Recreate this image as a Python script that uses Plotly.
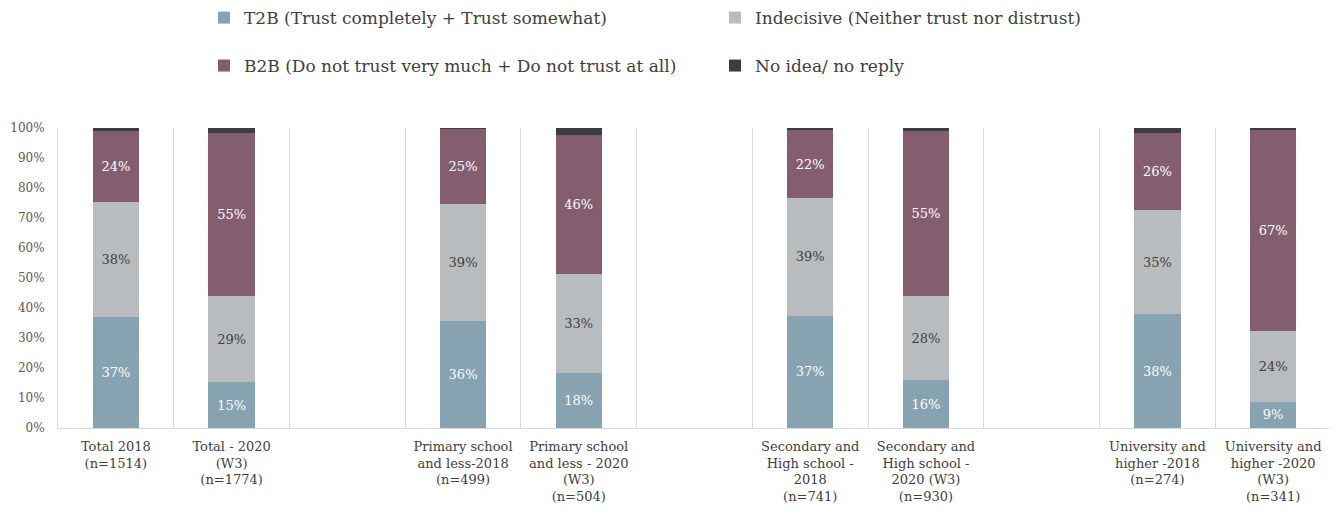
import plotly.graph_objects as go

# ---- data ----
categories = [
    "Total 2018<br>(n=1514)",
    "Total - 2020<br>(W3)<br>(n=1774)",
    "Primary school<br>and less-2018<br>(n=499)",
    "Primary school<br>and less - 2020<br>(W3)<br>(n=504)",
    "Secondary and<br>High school -<br>2018<br>(n=741)",
    "Secondary and<br>High school -<br>2020 (W3)<br>(n=930)",
    "University and<br>higher -2018<br>(n=274)",
    "University and<br>higher -2020<br>(W3)<br>(n=341)",
]
# axis order with empty spacer slots between groups
axis_order = [
    categories[0], categories[1], " ",
    categories[2], categories[3], "  ",
    categories[4], categories[5], "   ",
    categories[6], categories[7],
]
t2b = [37.0, 15.3, 35.7, 18.3, 37.4, 16.0, 37.9, 8.7]
indecisive = [38.2, 28.6, 38.9, 33.1, 39.4, 27.9, 34.7, 23.6]
b2b = [23.9, 54.6, 25.1, 46.4, 22.4, 55.2, 25.7, 67.2]
no_idea = [0.9, 1.5, 0.3, 2.2, 0.8, 0.9, 1.7, 0.5]

series_names = [
    "T2B (Trust completely + Trust somewhat)",
    "Indecisive (Neither trust nor distrust)",
    "B2B (Do not trust very much + Do not trust at all)",
    "No idea/ no reply",
]
colors = ["#87A2B1", "#B9BCBF", "#845E6F", "#3A3D42"]
text_colors = ["white", "#404040", "white", None]
legends = ["legend", "legend", "legend2", "legend2"]

FONT = "DejaVu Serif"
W, H = 1330, 505  # page body adds an 8px offset

fig = go.Figure()
for name, vals, col, tcol, lg in zip(series_names, [t2b, indecisive, b2b, no_idea],
                                     colors, text_colors, legends):
    fig.add_trace(go.Bar(
        name=name,
        x=categories,
        y=vals,
        marker=dict(color=col, line=dict(width=0)),
        width=0.4,
        text=[f"{round(v)}%" for v in vals] if tcol else None,
        textposition="inside" if tcol else "none",
        insidetextanchor="middle",
        textfont=dict(family=FONT, size=13, color=tcol if tcol else "white"),
        legend=lg,
        hoverinfo="x+y+name",
    ))

legend_common = dict(
    orientation="h",
    traceorder="normal",
    xref="container", yref="container",
    x=196 / W, xanchor="left", yanchor="middle",
    font=dict(family=FONT, size=17, color="#404040"),
    entrywidth=466, entrywidthmode="pixels",
    itemclick=False, itemdoubleclick=False,
)

fig.update_layout(
    barmode="stack",
    width=W,
    height=H,
    margin=dict(l=50, r=7, t=120, b=85, autoexpand=False),
    plot_bgcolor="white",
    paper_bgcolor="white",
    font=dict(family=FONT, color="#404040"),
    legend=dict(legend_common, y=1 - 10 / H),
    legend2=dict(legend_common, y=1 - 58 / H),
)

fig.update_xaxes(
    type="category",
    categoryorder="array",
    categoryarray=axis_order,
    range=[-0.5, len(axis_order) - 0.5],
    tickson="boundaries",
    showgrid=True,
    gridcolor="#D9D9D9",
    gridwidth=1,
    ticks="",
    showline=True,
    linecolor="#D9D9D9",
    linewidth=1,
    automargin=False,
    ticklabelstandoff=6,
    tickfont=dict(family=FONT, size=13, color="#404040"),
    tickangle=0,
)
fig.update_yaxes(
    range=[0, 100],
    tickvals=list(range(0, 101, 10)),
    ticktext=[f"{v}%" for v in range(0, 101, 10)],
    showgrid=False,
    zeroline=False,
    showline=True,
    mirror=True,
    linecolor="#D9D9D9",
    linewidth=1,
    ticks="",
    ticklabelstandoff=10,
    automargin=False,
    tickfont=dict(family=FONT, size=12, color="#595959"),
)

fig.write_html("out.html")
